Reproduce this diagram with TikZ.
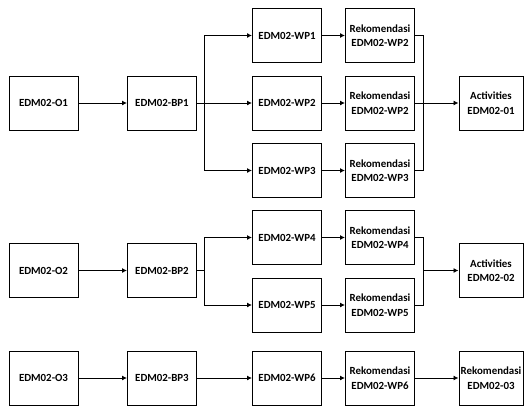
\documentclass[tikz,border=0pt]{standalone}
\usepackage{fontspec}
\setmainfont{Carlito}
\usetikzlibrary{arrows.meta}
\begin{document}
\begin{tikzpicture}[x=1pt,y=-1pt,
  box/.style={draw,line width=1pt,minimum width=69pt,minimum height=54pt,inner sep=1pt,align=center,
    font=\fontsize{10.9}{14.5}\selectfont\bfseries},
  arr/.style={line width=0.9pt,-{Latex[length=5pt,width=5pt]}},
  ln/.style={line width=0.9pt}]
\useasboundingbox (0,0) rectangle (524,408);
% row 1
\node[box] (o1) at (43.5,103) {EDM02-O1};
\node[box] (bp1) at (162,103) {EDM02-BP1};
\node[box] (wp1) at (287,35.5) {EDM02-WP1};
\node[box] (wp2) at (287,103) {EDM02-WP2};
\node[box] (wp3) at (287,170.5) {EDM02-WP3};
\node[box] (rk1) at (380,35.5) {Rekomendasi\\EDM02-WP2};
\node[box] (rk2) at (380,103) {Rekomendasi\\EDM02-WP2};
\node[box] (rk3) at (380,170.5) {Rekomendasi\\EDM02-WP3};
\node[box,minimum width=64pt] (act1) at (491,103) {Activities\\EDM02-01};
% row 2
\node[box] (o2) at (43.5,270.5) {EDM02-O2};
\node[box] (bp2) at (162,270.5) {EDM02-BP2};
\node[box] (wp4) at (287,237.5) {EDM02-WP4};
\node[box] (wp5) at (287,305) {EDM02-WP5};
\node[box] (rk4) at (380,237.5) {Rekomendasi\\EDM02-WP4};
\node[box] (rk5) at (380,305) {Rekomendasi\\EDM02-WP5};
\node[box,minimum width=64pt] (act2) at (491,270.5) {Activities\\EDM02-02};
% row 3
\node[box] (o3) at (43.5,378) {EDM02-O3};
\node[box] (bp3) at (162,378) {EDM02-BP3};
\node[box] (wp6) at (287,378) {EDM02-WP6};
\node[box] (rk6) at (380,378) {Rekomendasi\\EDM02-WP6};
\node[box,minimum width=64pt] (act3) at (491,378) {Rekomendasi\\EDM02-03};
% junctions
\coordinate (j1) at (204,103);
\coordinate (m1) at (423,103);
\coordinate (j2) at (204,270.5);
\coordinate (m2) at (423,270.5);
% connectors row 1
\draw[arr] (o1) -- (bp1);
\draw[ln] (bp1.east) -- (j1);
\draw[arr] (j1) |- (wp1.west);
\draw[arr] (j1) -- (wp2.west);
\draw[arr] (j1) |- (wp3.west);
\draw[arr] (wp1) -- (rk1);
\draw[arr] (wp2) -- (rk2);
\draw[arr] (wp3) -- (rk3);
\draw[ln] (rk1.east) -| (m1);
\draw[ln] (rk3.east) -| (m1);
\draw[arr] (rk2.east) -- (act1.west);
% row 2
\draw[arr] (o2) -- (bp2);
\draw[ln] (bp2.east) -- (j2);
\draw[arr] (j2) |- (wp4.west);
\draw[arr] (j2) |- (wp5.west);
\draw[arr] (wp4) -- (rk4);
\draw[arr] (wp5) -- (rk5);
\draw[ln] (rk4.east) -| (m2);
\draw[ln] (rk5.east) -| (m2);
\draw[arr] (m2) -- (act2.west);
% row 3
\draw[arr] (o3) -- (bp3);
\draw[arr] (bp3) -- (wp6);
\draw[arr] (wp6) -- (rk6);
\draw[arr] (rk6) -- (act3);
\end{tikzpicture}
\end{document}
